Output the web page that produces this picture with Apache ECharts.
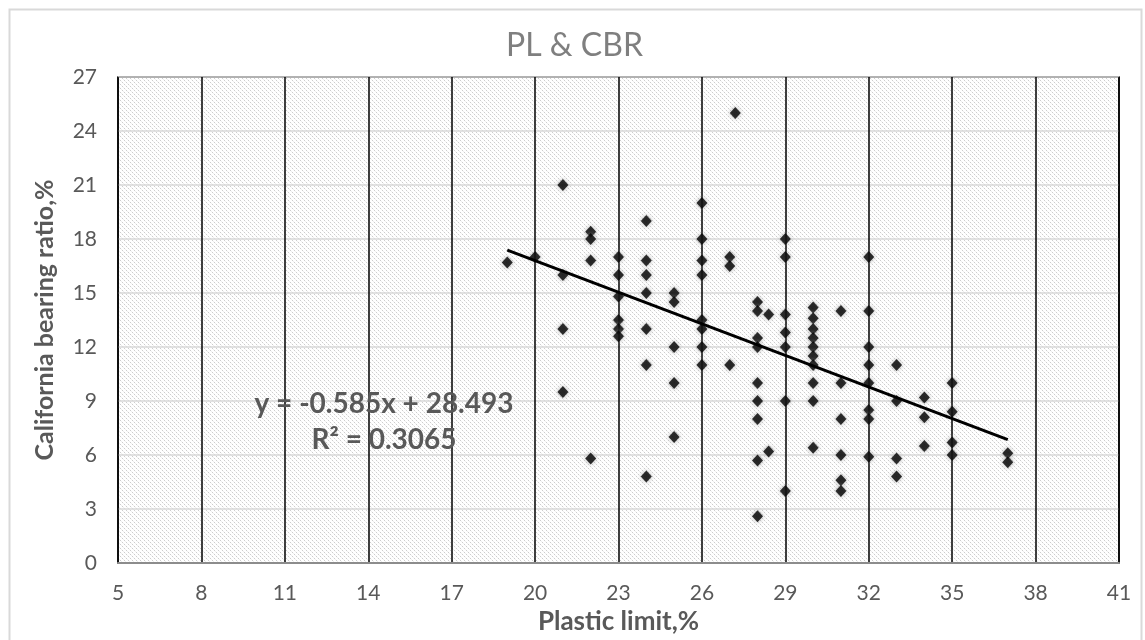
<!DOCTYPE html>
<html>
<head>
<meta charset="utf-8">
<script src="https://cdn.jsdelivr.net/npm/echarts@6/dist/echarts.min.js"></script>
<style>
  html, body { margin: 0; padding: 0; background: #fff; }
  #chart { width: 1145px; height: 640px; }
</style>
</head>
<body>
<div id="chart"></div>
<script>
// Plastic limit (x) and CBR (y) pairs
const plasticLimit = [
    19, 20,
    21, 21, 21, 21,
    22, 22, 22, 22,
    23, 23, 23, 23, 23, 23,
    24, 24, 24, 24, 24, 24, 24,
    25, 25, 25, 25, 25,
    26, 26, 26, 26, 26, 26, 26, 26,
    27, 27, 27, 27.2,
    28, 28, 28, 28, 28, 28, 28, 28, 28,
    28.4, 28.4,
    29, 29, 29, 29, 29, 29, 29,
    30, 30, 30, 30, 30, 30, 30, 30, 30, 30,
    31, 31, 31, 31, 31, 31,
    32, 32, 32, 32, 32, 32, 32, 32,
    33, 33, 33, 33,
    34, 34, 34,
    35, 35, 35, 35,
    37, 37
];
const cbr = [
    16.7, 17,
    21, 16, 13, 9.5,
    18.4, 18, 16.8, 5.8,
    17, 16, 14.8, 13.5, 13, 12.6,
    19, 16.8, 16, 15, 13, 11, 4.8,
    15, 14.5, 12, 10, 7,
    20, 18, 16.8, 16, 13.5, 13, 12, 11,
    17, 16.5, 11, 25,
    14.5, 14, 12.5, 12, 10, 9, 8, 5.7, 2.6,
    13.8, 6.2,
    18, 17, 13.8, 12.8, 12, 9, 4,
    14.2, 13.6, 13, 12.5, 12, 11.5, 11, 10, 9, 6.4,
    14, 10, 8, 6, 4.6, 4,
    17, 14, 12, 11, 10, 8.5, 8, 5.9,
    11, 9, 5.8, 4.8,
    9.2, 8.1, 6.5,
    10, 8.4, 6.7, 6,
    6.1, 5.6
];
// linear trend line end points
const trendX = [19, 37];
const trendY = [17.38, 6.85];

const xTicks = [5, 8, 11, 14, 17, 20, 23, 26, 29, 32, 35, 38, 41];
const yTicks = [0, 3, 6, 9, 12, 15, 18, 21, 24, 27];

const equationText = 'y = -0.585x + 28.493';
const rSquaredText = 'R² = 0.3065';

const FONT = 'Lato, "Open Sans", sans-serif';

/**
 * Builds the light diagonal hatch used as plot area fill.
 */
function makeHatch() {
    const c = document.createElement('canvas');
    c.width = 4;
    c.height = 4;
    const ctx = c.getContext('2d');
    ctx.fillStyle = '#ffffff';
    ctx.fillRect(0, 0, 4, 4);
    ctx.fillStyle = '#cdcdcd';
    ctx.fillRect(0, 0, 1, 1);
    ctx.fillRect(2, 2, 1, 1);
    ctx.fillStyle = '#efefef';
    ctx.fillRect(1, 1, 1, 1);
    ctx.fillRect(3, 3, 1, 1);
    return c;
}

const chart = echarts.init(document.getElementById('chart'));

const points = plasticLimit.map(function (x, i) { return [x, cbr[i]]; });
const trend = trendX.map(function (x, i) { return [x, trendY[i]]; });

chart.setOption({
    animation: false,
    textStyle: { fontFamily: FONT },
    title: {
        text: 'PL & CBR',
        left: 506,
        top: 30,
        padding: 0,
        textStyle: {
            fontFamily: FONT,
            fontSize: 32,
            fontWeight: 'normal',
            color: '#7f7f7f'
        }
    },
    graphic: [
        {
            type: 'rect',
            left: 7,
            top: 7,
            z: -10,
            shape: { width: 1132, height: 660 },
            style: { fill: 'none', stroke: '#d9d9d9', lineWidth: 2 }
        },
        {
            type: 'text',
            style: {
                text: equationText,
                x: 384,
                y: 404,
                align: 'center',
                verticalAlign: 'middle',
                font: 'bold 28px ' + FONT,
                fill: '#595959'
            },
            z: 100
        },
        {
            type: 'text',
            style: {
                text: rSquaredText,
                x: 384,
                y: 440,
                align: 'center',
                verticalAlign: 'middle',
                font: 'bold 28px ' + FONT,
                fill: '#595959'
            },
            z: 100
        }
    ],
    grid: {
        left: 118,
        top: 77,
        right: 26,
        bottom: 73,
        show: true,
        borderColor: '#000',
        borderWidth: 1.5,
        backgroundColor: { image: makeHatch(), repeat: 'repeat' }
    },
    xAxis: {
        type: 'value',
        min: xTicks[0],
        max: xTicks[xTicks.length - 1],
        interval: 3,
        name: 'Plastic limit,%',
        nameLocation: 'middle',
        nameGap: 46,
        nameTextStyle: { fontFamily: FONT, fontSize: 26, fontWeight: 'bold', color: '#595959' },
        axisLine: { show: true, lineStyle: { color: '#8c8c8c', width: 2 } },
        axisTick: { show: false },
        axisLabel: { fontFamily: FONT, fontSize: 21, color: '#595959', margin: 20 },
        splitLine: { show: true, lineStyle: { color: '#000', width: 1.5 } }
    },
    yAxis: {
        type: 'value',
        min: yTicks[0],
        max: yTicks[yTicks.length - 1],
        interval: 3,
        name: 'California bearing ratio,%',
        nameLocation: 'middle',
        nameGap: 61,
        nameTextStyle: { fontFamily: FONT, fontSize: 25, fontWeight: 'bold', color: '#595959' },
        axisLine: { show: false },
        axisTick: { show: false },
        axisLabel: { fontFamily: FONT, fontSize: 21, color: '#595959', margin: 21 },
        splitLine: { show: true, lineStyle: { color: '#d9d9d9', width: 1.5 } }
    },
    series: [
        {
            type: 'scatter',
            data: points,
            symbol: 'diamond',
            symbolSize: [11, 12],
            itemStyle: {
                color: '#000',
                shadowBlur: 4,
                shadowColor: 'rgba(150,150,150,0.9)'
            },
            z: 3
        },
        {
            type: 'line',
            data: trend,
            symbol: 'none',
            lineStyle: { color: '#000', width: 3 },
            z: 4
        }
    ]
});
</script>
</body>
</html>
